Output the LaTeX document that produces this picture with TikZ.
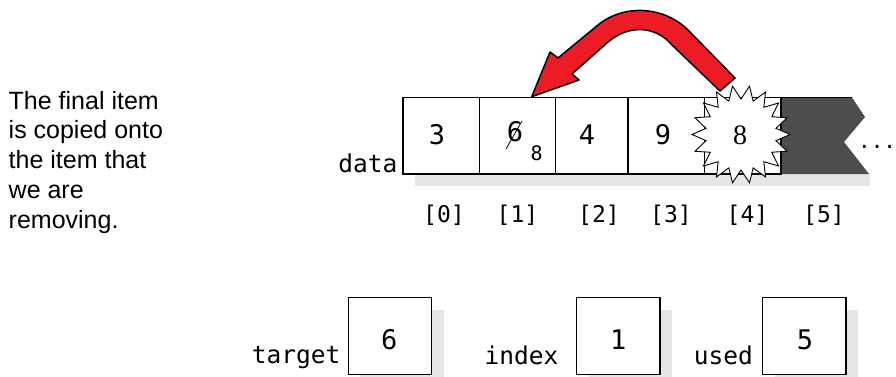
\documentclass[tikz,border=0pt]{standalone}
\usepackage{fontspec}
\setmainfont{Liberation Sans}
\newfontfamily\codefont{DejaVu Sans Mono}
\newfontfamily\numfont{Liberation Serif}
\usetikzlibrary{shapes.geometric}
\definecolor{arrowred}{HTML}{ED1C24}
\definecolor{tailgray}{HTML}{4D4D4D}
\definecolor{shadowgray}{HTML}{E6E6E6}
\begin{document}
\begin{tikzpicture}[x=1pt,y=-1pt,
  cellbox/.style={draw=black, line width=1.1pt, fill=white, minimum height=76.5pt, inner sep=0pt, outer sep=0pt},
  varbox/.style={draw=black, line width=1.1pt, fill=white, minimum width=83.3pt, minimum height=77pt, inner sep=0pt},
  shadebox/.style={fill=shadowgray, draw=none, minimum width=83.3pt, minimum height=77pt, inner sep=0pt},
  code/.style={font=\codefont\fontsize{24.5}{24.5}\selectfont, inner sep=0pt},
  digit/.style={font=\codefont\fontsize{27}{27}\selectfont, inner sep=0pt},
  idx/.style={font=\codefont\fontsize{23}{23}\selectfont, inner sep=0pt},
  arrowbody/.style={fill=arrowred, draw=black, line width=1.5pt, line join=round}
]
\useasboundingbox (0,0) rectangle (896,377);

% explanatory note
\node[anchor=north west, inner sep=0pt, align=left,
      font=\fontsize{25}{29.8}\selectfont] (note) at (8.5,90.8)
  {The final item\\is copied onto\\the item that\\we are\\removing.};

% shadows
\fill[shadowgray] (415,174) rectangle (870,186);
\node[shadebox] (targetshade) at (402,348) {};
\node[shadebox] (indexshade) at (630.3,348) {};
\node[shadebox] (usedshade) at (816.3,348) {};

% unused tail of the array
\fill[tailgray] (781,97.5) -- (852,97.5) -- (865,117) -- (844,142) -- (869,174) -- (781,174) -- cycle;
\draw[line width=1.4pt] (781,97.5) -- (852,97.5);

% array cells
\node[cellbox, minimum width=76.5pt] (c0) at (441.25,135.75) {};
\node[cellbox, minimum width=76pt]   (c1) at (517.5,135.75) {};
\node[cellbox, minimum width=72.5pt] (c2) at (591.75,135.75) {};
\node[cellbox, minimum width=76.5pt] (c3) at (666.25,135.75) {};
\node[cellbox, minimum width=76.5pt] (c4) at (742.75,135.75) {};

% burst on the last item
\node[star, star points=18, star point ratio=1.38, minimum size=98pt, inner sep=0pt,
      shape border rotate=10, draw=black, line width=0.9pt, fill=white] (burst) at (741,134.5) {};

% the copy arrow
\draw[arrowbody] (735,78) -- (688,30) .. controls (665,7) and (625,3) .. (598,25)
  -- (558,58) -- (550,52) -- (531.7,96.7) -- (579,80) -- (572,74)
  -- (608,42) .. controls (628,25) and (655,25) .. (672,45) -- (720,91) -- cycle;

% cell contents
\node[digit] (v0) at (437,135) {3};
\node[digit] (v1) at (515,132) {6};
\node[font=\codefont\fontsize{20}{20}\selectfont, inner sep=0pt] (v1new) at (536.7,153) {8};
\node[digit] (v2) at (587,135) {4};
\node[digit] (v3) at (663,135) {9};
\node[font=\numfont\fontsize{28}{28}\selectfont, inner sep=0pt] (v4) at (740,135) {8};
\coordinate (strikea) at (506,149);
\coordinate (strikeb) at (522,121);
\draw[line width=0.8pt] (strikea) -- (strikeb);
\node[font=\codefont\fontsize{21}{21}\selectfont, anchor=base west, inner sep=0pt] (more) at (858,148.5) {...};

% array name and indices
\node[code, anchor=base east] (dataname) at (397.5,172) {data};
\node[idx] (i0) at (444,215) {[0]};
\node[idx] (i1) at (517.5,215) {[1]};
\node[idx] (i2) at (599,215) {[2]};
\node[idx] (i3) at (671,215) {[3]};
\node[idx] (i4) at (747.5,215) {[4]};
\node[idx] (i5) at (824,215) {[5]};

% member variables
\node[varbox] (targetbox) at (390,336) {};
\node[varbox] (indexbox) at (618.3,336) {};
\node[varbox] (usedbox) at (804.3,336) {};
\node[digit] (targetval) at (389.3,340) {6};
\node[digit] (indexval) at (618.3,340) {1};
\node[digit] (usedval) at (805,340) {5};
\node[code, anchor=base east] (targetname) at (340.5,363.5) {target};
\node[code, anchor=base east] (indexname) at (558.5,364) {index};
\node[code, anchor=base east] (usedname) at (753,364) {used};
\end{tikzpicture}
\end{document}
